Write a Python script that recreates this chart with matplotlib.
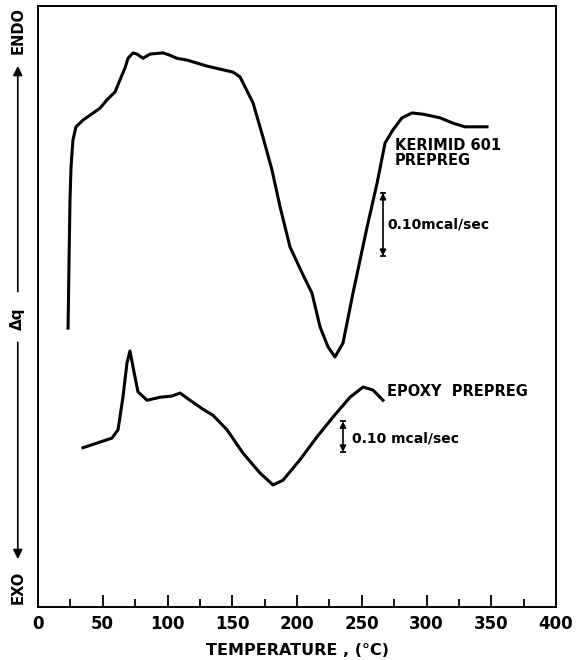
import matplotlib.pyplot as plt
import numpy as np

# DSC traces: temperature (C) and deflection (arbitrary units, 0-100 = axis height)
kerimid_T = [23.2, 23.9, 24.7, 25.5, 27.0, 29.3, 34.7, 47.9, 53.3, 59.5, 63.3, 67.2, 69.5, 73.4,
             76.4, 81.1, 86.5, 96.5, 101.9, 107.3, 115.1, 130.5, 140.5, 150.6, 156.0, 166.0,
             173.7, 180.7, 186.9, 194.6, 203.9, 211.6, 217.8, 223.9, 229.3, 235.5, 243.2,
             254.1, 261.8, 268.0, 274.1, 281.1, 288.8, 297.3, 310.4, 320.5, 329.7, 346.7]
kerimid_q = [46.4, 56.6, 67.7, 73.2, 77.7, 79.9, 81.0, 83.0, 84.4, 85.7, 87.7, 89.7, 91.3, 92.2,
             92.0, 91.3, 92.0, 92.2, 91.8, 91.3, 91.0, 90.0, 89.5, 89.0, 88.2, 83.9,
             78.2, 72.7, 66.6, 59.9, 55.6, 52.2, 46.6, 43.3, 41.6, 43.9, 52.2,
             63.2, 70.5, 77.2, 79.4, 81.4, 82.2, 82.0, 81.4, 80.5, 79.9, 79.9]

epoxy_T = [34.7, 57.1, 61.8, 65.6, 68.7, 71.0, 73.4, 77.2, 84.2, 94.2, 103.5, 109.7, 117.4,
           127.4, 135.1, 145.9, 158.3, 171.4, 181.5, 189.2, 202.3, 215.4, 227.8, 240.9,
           251.0, 258.7, 266.4]
epoxy_q = [26.5, 28.1, 29.5, 34.9, 40.6, 42.6, 39.9, 35.8, 34.4, 34.9, 35.1, 35.6, 34.4,
           32.9, 31.9, 29.5, 25.6, 22.3, 20.3, 21.1, 24.5, 28.3, 31.6, 34.9,
           36.6, 36.1, 34.4]

plt.rcParams['font.weight'] = 'bold'

fig = plt.figure(figsize=(5.76, 6.6), dpi=100)
ax = fig.add_axes([38/576, 53/660, 518/576, 601/660])

ax.plot(kerimid_T, kerimid_q, color='black', lw=2.2, solid_joinstyle='round')
ax.plot(epoxy_T, epoxy_q, color='black', lw=2.2, solid_joinstyle='round')

ax.set_xlim(0, 400)
ax.set_ylim(0, 100)
ax.set_xticks(np.arange(0, 401, 50))
ax.set_xticks(np.arange(25, 400, 50), minor=True)
ax.set_yticks([])
ax.tick_params(axis='x', which='major', direction='in', length=9, width=1.3, labelsize=12, pad=6)
ax.tick_params(axis='x', which='minor', direction='in', length=6, width=1.3)
for s in ax.spines.values():
    s.set_linewidth(1.4)
ax.set_xlabel('TEMPERATURE , (°C)', fontsize=11.5, fontweight='bold', labelpad=7)

# y axis legend: ENDO / dq / EXO with arrows
ax.text(-0.039, 0.960, 'ENDO', transform=ax.transAxes, rotation=90, ha='center', va='center', fontsize=10.5)
ax.text(-0.039, 0.479, 'Δq', transform=ax.transAxes, rotation=90, ha='center', va='center', fontsize=11)
ax.text(-0.039, 0.033, 'EXO', transform=ax.transAxes, rotation=90, ha='center', va='center', fontsize=10.5)
arr = dict(arrowstyle='-|>', color='black', lw=1.2, mutation_scale=14)
ax.annotate('', xy=(-0.039, 0.905), xytext=(-0.039, 0.52), xycoords='axes fraction',
            textcoords='axes fraction', arrowprops=arr, annotation_clip=False)
ax.annotate('', xy=(-0.039, 0.075), xytext=(-0.039, 0.445), xycoords='axes fraction',
            textcoords='axes fraction', arrowprops=arr, annotation_clip=False)


def scale_bar(x, y0, y1):
    ax.annotate('', xy=(x, y1), xytext=(x, y0), arrowprops=dict(arrowstyle='<|-|>', color='black',
                lw=1.2, mutation_scale=9, shrinkA=0, shrinkB=0))
    ax.plot([x - 1.8, x + 1.8], [y0, y0], color='black', lw=1.3)
    ax.plot([x - 1.8, x + 1.8], [y1, y1], color='black', lw=1.3)


scale_bar(266.4, 58.4, 68.9)
ax.text(269.5, 63.7, '0.10mcal/sec', ha='left', va='center', fontsize=10)
ax.text(275.7, 78.0, 'KERIMID 601\nPREPREG', ha='left', va='top', fontsize=10.5, linespacing=1.0)

scale_bar(235.5, 25.8, 30.9)
ax.text(242.5, 28.0, '0.10 mcal/sec', ha='left', va='center', fontsize=10)
ax.text(269.5, 35.8, 'EPOXY  PREPREG', ha='left', va='center', fontsize=10.5)

fig.savefig('out.png', dpi=100)
